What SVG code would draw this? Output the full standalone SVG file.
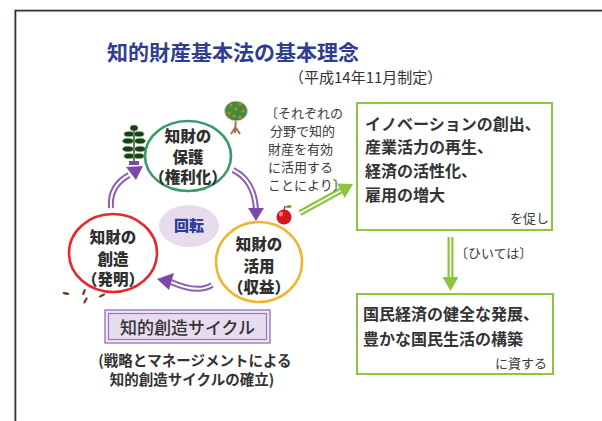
<svg xmlns="http://www.w3.org/2000/svg" width="602" height="421" viewBox="0 0 602 421">
  <style>
    text { font-family: "Noto Sans CJK JP", "Noto Sans", sans-serif; fill: #333; }
    .title { font-size: 21px; font-weight: 700; fill: #2f3d91; }
    .sub { font-size: 15px; fill: #333; }
    .node { font-size: 15.5px; font-weight: 900; text-anchor: middle; fill: #2f2f2f; }
    .note { font-size: 13px; fill: #3a3a3a; }
    .box { fill: #fff; stroke: #8cc63f; stroke-width: 2; }
    .boxtxt { font-size: 16px; font-weight: 700; fill: #333; }
    .small { font-size: 13px; fill: #3a3a3a; }
    .arrow-p-out { fill: none; stroke: #8a5fb2; stroke-width: 6; stroke-linecap: butt; }
    .arrow-p-in { fill: none; stroke: #fff; stroke-width: 2; }
    .head-p { fill: #7b4aa6; }
    .arrow-g-out { fill: none; stroke: #8cc63f; stroke-width: 6; }
    .arrow-g-in { fill: none; stroke: #fff; stroke-width: 1.6; }
    .head-g { fill: #8cc63f; }
    .cap { font-size: 14.5px; font-weight: 700; text-anchor: middle; fill: #333; }
  </style>

  <!-- outer frame -->
  <path d="M14.5 421 V9.5 H602" fill="none" stroke="#c8c4c0" stroke-width="1"/>
  <path d="M15.5 421 V10.8 H602" fill="none" stroke="#3a3030" stroke-width="1.6"/>

  <!-- heading -->
  <text class="title" x="107" y="60">知的財産基本法の基本理念</text>
  <text class="sub" x="289" y="83">（平成14年11月制定）</text>

  <!-- connectors -->
  <g id="connectors">
    <!-- protection -> utilization -->
    <path class="arrow-p-out" d="M233 170 Q254 180 256 209"/>
    <path class="arrow-p-in" d="M233 170 Q254 180 256 209"/>
    <polygon class="head-p" points="248,208 264,208 256,221"/>
    <!-- utilization -> creation -->
    <path class="arrow-p-out" d="M212 285 Q198 294 171 282"/>
    <path class="arrow-p-in" d="M212 285 Q198 294 171 282"/>
    <polygon class="head-p" points="157,279 174,273 169,290"/>
    <!-- creation -> protection -->
    <path class="arrow-p-out" d="M111 208 Q109 186 129 175"/>
    <path class="arrow-p-in" d="M111 208 Q109 186 129 175"/>
    <polygon class="head-p" points="143,166 136,180 126,167"/>
    <!-- cycle -> outcome box -->
    <path class="arrow-g-out" d="M300 213 L341 190.5"/>
    <path class="arrow-g-in" d="M300 213 L341 190.5"/>
    <polygon class="head-g" points="353,184 344.8,198 336.8,183.5"/>
    <!-- outcome -> national benefit -->
    <path class="arrow-g-out" d="M450.5 237 V278"/>
    <path class="arrow-g-in" d="M450.5 237 V278"/>
    <polygon class="head-g" points="442.5,277 458.5,277 450.5,291"/>
  </g>

  <!-- protection node -->
  <g id="node-protection">
    <ellipse cx="188" cy="156" rx="43" ry="35" fill="#fff" stroke="#3a9a6b" stroke-width="2.6"/>
    <text class="node" x="188" y="142">知財の</text>
    <text class="node" x="188" y="163">保護</text>
    <text class="node" x="188" y="183">（権利化）</text>
  </g>

  <!-- creation node -->
  <g id="node-creation">
    <ellipse cx="113" cy="253" rx="44" ry="39" fill="#fff" stroke="#e42a2c" stroke-width="2.6"/>
    <text class="node" x="113" y="243">知財の</text>
    <text class="node" x="113" y="265">創造</text>
    <text class="node" x="113" y="285">（発明）</text>
  </g>

  <!-- utilization node -->
  <g id="node-utilization">
    <ellipse cx="259" cy="262" rx="43" ry="40" fill="#fff" stroke="#f0b530" stroke-width="2.6"/>
    <text class="node" x="259" y="250">知財の</text>
    <text class="node" x="259" y="272">活用</text>
    <text class="node" x="259" y="293">（収益）</text>
  </g>

  <!-- rotation label -->
  <g id="node-rotation">
    <ellipse cx="189" cy="226" rx="30" ry="21" fill="#e6dcee"/>
    <text x="189" y="231" font-size="15" font-weight="900" text-anchor="middle" style="fill:#2f3d91">回転</text>
  </g>

  <!-- decorations: sprig -->
  <g id="sprig">
    <line x1="134" y1="126" x2="134" y2="162" stroke="#2d4a2a" stroke-width="1.5"/>
    <g fill="#1f3a22" stroke="#6fbf5a" stroke-width="0.6">
      <ellipse cx="134" cy="128" rx="4" ry="3"/>
      <ellipse cx="129" cy="134" rx="5" ry="2.6"/>
      <ellipse cx="139" cy="134" rx="5" ry="2.6"/>
      <ellipse cx="128" cy="141" rx="5.5" ry="2.8"/>
      <ellipse cx="140" cy="141" rx="5.5" ry="2.8"/>
      <ellipse cx="128" cy="149" rx="5.5" ry="2.8"/>
      <ellipse cx="140" cy="149" rx="5.5" ry="2.8"/>
      <ellipse cx="129" cy="156" rx="5" ry="2.6"/>
      <ellipse cx="139" cy="156" rx="5" ry="2.6"/>
    </g>
    <rect x="129" y="161" width="10" height="4" fill="#7b4aa6"/>
  </g>

  <!-- decorations: fruit tree -->
  <g id="tree">
    <path d="M236 116 L235 133 M235 128 L231 134 M236 128 L240 134" stroke="#a0704a" stroke-width="2" fill="none"/>
    <ellipse cx="236" cy="111" rx="11.5" ry="10" fill="#3e8f3a" stroke="#cfcfcf" stroke-width="1"/>
    <g fill="#e8742a">
      <circle cx="231" cy="105" r="1.6"/>
      <circle cx="240" cy="104" r="1.6"/>
      <circle cx="236" cy="109" r="1.6"/>
      <circle cx="229" cy="113" r="1.6"/>
      <circle cx="243" cy="111" r="1.6"/>
      <circle cx="234" cy="116" r="1.6"/>
      <circle cx="240" cy="117" r="1.6"/>
    </g>
  </g>

  <!-- decorations: apple -->
  <g id="apple">
    <circle cx="284" cy="217" r="7.5" fill="#d8141e"/>
    <ellipse cx="281" cy="214" rx="2" ry="2.5" fill="#ff8a8a"/>
    <path d="M284 210 L285 206" stroke="#5a3a1a" stroke-width="1.2"/>
    <path d="M285 207 Q290 203 292 207 Q288 209 285 207 Z" fill="#5aa03a"/>
  </g>

  <!-- decorations: seeds -->
  <g id="seeds" fill="#6b3f1f">
    <ellipse cx="66" cy="293.5" rx="3.5" ry="1.2" transform="rotate(10 66 293.5)"/>
    <ellipse cx="84" cy="292" rx="3.5" ry="1.2" transform="rotate(-70 84 292)"/>
    <ellipse cx="85.5" cy="300.5" rx="3.5" ry="1.2" transform="rotate(-60 85.5 300.5)"/>
    <ellipse cx="102" cy="295.5" rx="3.5" ry="1.2" transform="rotate(-25 102 295.5)"/>
  </g>

  <!-- condition note -->
  <g id="note-utilize">
    <text class="note" x="265" y="118">〔それぞれの</text>
    <text class="note" x="270" y="136">分野で知的</text>
    <text class="note" x="268" y="154">財産を有効</text>
    <text class="note" x="268" y="172">に活用する</text>
    <text class="note" x="268" y="190">ことにより〕</text>
  </g>

  <!-- outcome box -->
  <g id="node-outcome">
    <rect class="box" x="357" y="103" width="195" height="127"/>
    <text class="boxtxt" x="365" y="130">イノベーションの創出、</text>
    <text class="boxtxt" x="365" y="153">産業活力の再生、</text>
    <text class="boxtxt" x="365" y="177">経済の活性化、</text>
    <text class="boxtxt" x="365" y="201">雇用の増大</text>
    <text class="small" x="549" y="223" text-anchor="end">を促し</text>
  </g>

  <text class="small" x="455" y="258">〔ひいては〕</text>

  <!-- national benefit box -->
  <g id="node-benefit">
    <rect class="box" x="357" y="294" width="196" height="80"/>
    <text class="boxtxt" x="363" y="320">国民経済の健全な発展、</text>
    <text class="boxtxt" x="363" y="345">豊かな国民生活の構築</text>
    <text class="small" x="547" y="368" text-anchor="end">に資する</text>
  </g>

  <!-- cycle label -->
  <g id="node-cycle">
    <rect x="105" y="310" width="165" height="33" fill="#efe7f5" stroke="#9a78bd" stroke-width="1.4"/>
    <rect x="108.5" y="313.5" width="158" height="26" fill="#e6dbef" stroke="#9a78bd" stroke-width="1.2"/>
    <text x="187.5" y="334" font-size="17" font-weight="500" text-anchor="middle" style="fill:#333">知的創造サイクル</text>
    <text class="cap" x="195" y="366">(戦略とマネージメントによる</text>
    <text class="cap" x="192" y="385">知的創造サイクルの確立)</text>
  </g>
</svg>
